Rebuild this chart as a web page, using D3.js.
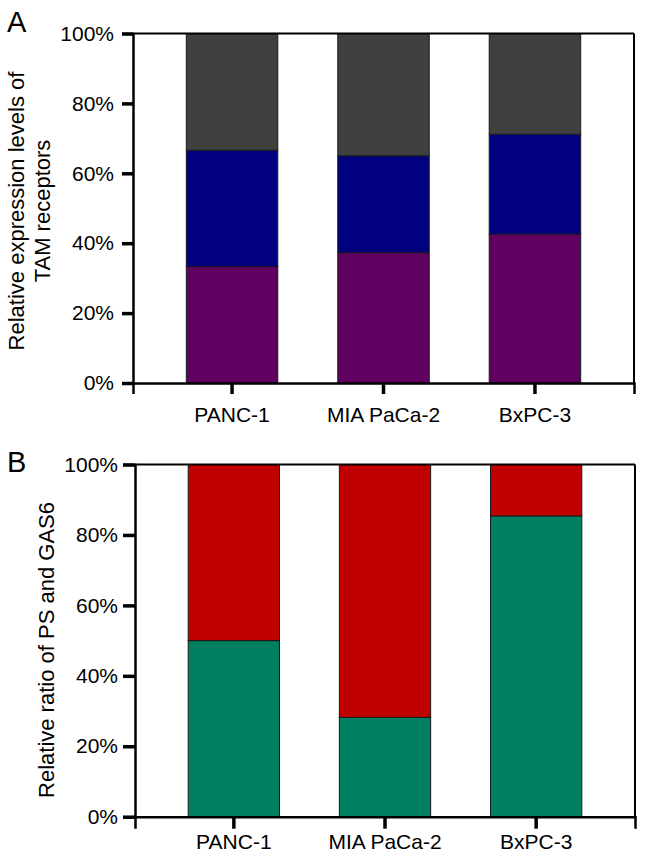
<!DOCTYPE html>
<html>
<head>
<meta charset="utf-8">
<script src="https://cdn.jsdelivr.net/npm/d3@7"></script>
<style>
  html, body { margin: 0; padding: 0; background: #fff; }
  svg { display: block; font-family: "Liberation Sans", Arial, Helvetica, sans-serif; }
</style>
</head>
<body>
<svg id="chart" width="646" height="859"></svg>
<script>
// ---- data ----
const categories = ["PANC-1", "MIA PaCa-2", "BxPC-3"];
const yTicks = [0, 0.2, 0.4, 0.6, 0.8, 1.0];

// Panel A: TAM receptors (stacked, bottom to top)
const tamPurple = [0.333, 0.373, 0.426];
const tamBlue   = [0.333, 0.277, 0.286];
const tamGrey   = [0.334, 0.350, 0.288];
const tamColors = ["#600060", "#000080", "#404040"];

// Panel B: PS and GAS6 (stacked, bottom to top)
const psGreen = [0.500, 0.282, 0.854];
const psRed   = [0.500, 0.718, 0.146];
const psColors = ["#008062", "#c00000"];

const svg = d3.select("#chart");

function panel(opts) {
  const { left, right, top, bottom, letter, letterY, titleLines, titleX, titleCy,
          values, colors, tickLen, yPad, xPad } = opts;
  const g = svg.append("g");
  const x = d3.scaleBand().domain(categories).range([left, right]).paddingInner(0.396).paddingOuter(0.352);
  const y = d3.scaleLinear().domain([0, 1]).range([bottom, top]);

  const rows = categories.map((c, i) => {
    const o = { cat: c };
    values.forEach((arr, k) => o["s" + k] = arr[i]);
    return o;
  });
  const layers = d3.stack().keys(values.map((_, k) => "s" + k))(rows);

  g.selectAll("g.layer").data(layers).join("g")
    .attr("fill", (d, k) => colors[k])
    .selectAll("rect").data(d => d).join("rect")
    .attr("x", d => x(d.data.cat))
    .attr("width", x.bandwidth())
    .attr("y", d => y(d[1]))
    .attr("height", d => y(d[0]) - y(d[1]))
    .attr("stroke", "#1a1a1a")
    .attr("stroke-width", 1);

  // frame (top and right)
  g.append("line").attr("x1", left).attr("x2", right).attr("y1", top).attr("y2", top)
    .attr("stroke", "#000").attr("stroke-width", 2);
  g.append("line").attr("x1", right).attr("x2", right).attr("y1", top).attr("y2", bottom)
    .attr("stroke", "#000").attr("stroke-width", 2);

  const fontFam = "'Liberation Sans', Arial, sans-serif";
  // y axis
  const yAxis = g.append("g").attr("transform", `translate(${left},0)`)
    .call(d3.axisLeft(y).tickValues(yTicks).tickFormat(d3.format(".0%")).tickSize(tickLen).tickPadding(yPad));
  yAxis.select(".domain").attr("stroke", "#000").attr("stroke-width", 2.5);
  yAxis.selectAll(".tick line").attr("stroke", "#000").attr("stroke-width", 3.5);
  yAxis.selectAll(".tick text").attr("font-size", 21).attr("fill", "#000").attr("font-family", fontFam);

  // x axis
  const xAxis = g.append("g").attr("transform", `translate(0,${bottom})`)
    .call(d3.axisBottom(x).tickSize(tickLen).tickPadding(xPad));
  xAxis.select(".domain").attr("stroke", "#000").attr("stroke-width", 2.5);
  xAxis.selectAll(".tick line").attr("stroke", "#000").attr("stroke-width", 3.5);
  xAxis.selectAll(".tick text").attr("font-size", 21).attr("fill", "#000").attr("font-family", fontFam);

  // panel letter
  svg.append("text").attr("x", 7).attr("y", letterY).attr("font-size", 29)
    .attr("fill", "#000").text(letter);

  // y title
  const t = svg.append("text")
    .attr("transform", `translate(${titleX},${titleCy}) rotate(-90)`)
    .attr("text-anchor", "middle").attr("font-size", 22).attr("fill", "#000");
  titleLines.forEach((line, i) => {
    t.append("tspan").attr("x", 0).attr("dy", i === 0 ? 0 : 25.5).text(line);
  });
}

panel({
  left: 133, right: 634, top: 33.5, bottom: 383,
  letter: "A", letterY: 32,
  titleLines: ["Relative expression levels of", "TAM receptors"], titleX: 24, titleCy: 211,
  values: [tamPurple, tamBlue, tamGrey], colors: tamColors, tickLen: 11, yPad: 8, xPad: 13
});

panel({
  left: 135, right: 635, top: 464.5, bottom: 816.7,
  letter: "B", letterY: 472,
  titleLines: ["Relative ratio of PS and GAS6"], titleX: 54, titleCy: 650,
  values: [psGreen, psRed], colors: psColors, tickLen: 12, yPad: 5, xPad: 5
});
</script>
</body>
</html>
